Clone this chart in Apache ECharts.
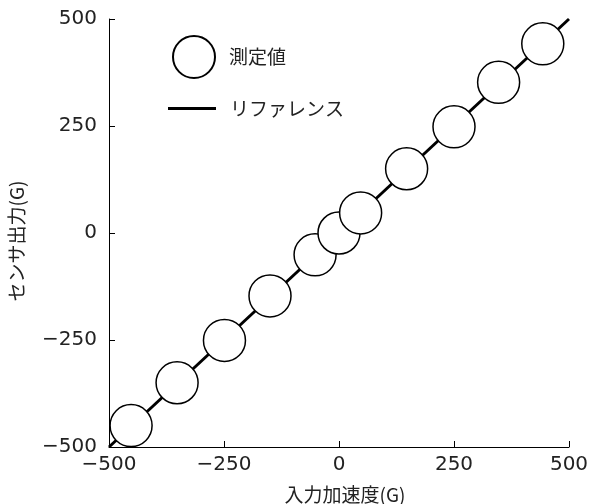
<!DOCTYPE html>
<html>
<head>
<meta charset="utf-8">
<script src="https://cdn.jsdelivr.net/npm/echarts@6/dist/echarts.min.js"></script>
<style>
html,body{margin:0;padding:0;background:#fff;}
#chart{width:595px;height:504px;}
</style>
</head>
<body>
<div id="chart"></div>
<script>
const measuredX = [-452, -352, -249, -150, -52, 0, 47, 147, 250, 347, 443];
const measuredY = [-450, -350, -251, -147, -51, 0, 47, 150, 248, 352, 442];
const referenceX = [-500, 500];
const referenceY = [-500, 500];
const tickValues = [-500, -250, 0, 250, 500];
const seriesNames = ['測定値', 'リファレンス'];
const xName = '入力加速度(G)';
const yName = 'センサ出力(G)';

const numFont = 'DejaVu Sans';
const cjkFont = '"Noto Sans CJK JP", sans-serif';
const textColor = '#222';

function fmt(v) { return String(v).replace('-', '\u2212'); }

const chart = echarts.init(document.getElementById('chart'), null, {renderer: 'canvas'});
chart.setOption({
  animation: false,
  backgroundColor: '#fff',
  grid: {left: 109, right: 26, top: 19, bottom: 57, containLabel: false, outerBoundsMode: 'none'},
  legend: [
    {
      data: [seriesNames[0]], left: 172, top: 35, padding: 0,
      itemWidth: 42, itemHeight: 42, icon: 'circle',
      textStyle: {fontFamily: cjkFont, fontSize: 19, color: textColor, padding: [0, 0, 0, 9]}
    },
    {
      data: [seriesNames[1]], left: 168, top: 99, padding: 0,
      itemWidth: 48, itemHeight: 3, icon: 'rect',
      itemStyle: {color: '#000'},
      textStyle: {fontFamily: cjkFont, fontSize: 19, color: textColor, padding: [0, 0, 0, 9]}
    }
  ],
  xAxis: {
    type: 'value', min: tickValues[0], max: tickValues[tickValues.length - 1], interval: 250,
    name: xName, nameLocation: 'middle', nameGap: 38,
    nameTextStyle: {fontFamily: cjkFont, fontSize: 19, color: textColor, padding: [0, 0, 0, 12]},
    axisLine: {show: true, onZero: false, lineStyle: {color: '#000', width: 1}},
    axisTick: {show: true, inside: true, length: 6, lineStyle: {color: '#000', width: 1}},
    splitLine: {show: false},
    axisLabel: {fontFamily: numFont, fontSize: 20, color: textColor, margin: 8, formatter: fmt}
  },
  yAxis: {
    type: 'value', min: tickValues[0], max: tickValues[tickValues.length - 1], interval: 250,
    name: yName, nameLocation: 'middle', nameGap: 83,
    nameTextStyle: {fontFamily: cjkFont, fontSize: 19, color: textColor, padding: [0, 16, 0, 0]},
    axisLine: {show: true, onZero: false, lineStyle: {color: '#000', width: 1}},
    axisTick: {show: true, inside: true, length: 6, lineStyle: {color: '#000', width: 1}},
    splitLine: {show: false},
    axisLabel: {fontFamily: numFont, fontSize: 20, color: textColor, margin: 12, formatter: fmt}
  },
  series: [
    {
      name: seriesNames[1], type: 'line', z: 1,
      data: referenceX.map((x, i) => [x, referenceY[i]]),
      symbol: 'none', showSymbol: false,
      lineStyle: {color: '#000', width: 3},
      itemStyle: {color: '#000'}
    },
    {
      name: seriesNames[0], type: 'scatter', z: 3,
      data: measuredX.map((x, i) => [x, measuredY[i]]),
      symbol: 'circle', symbolSize: 42,
      itemStyle: {color: '#fff', borderColor: '#000', borderWidth: 1.5, opacity: 1}
    }
  ]
});
</script>
</body>
</html>
